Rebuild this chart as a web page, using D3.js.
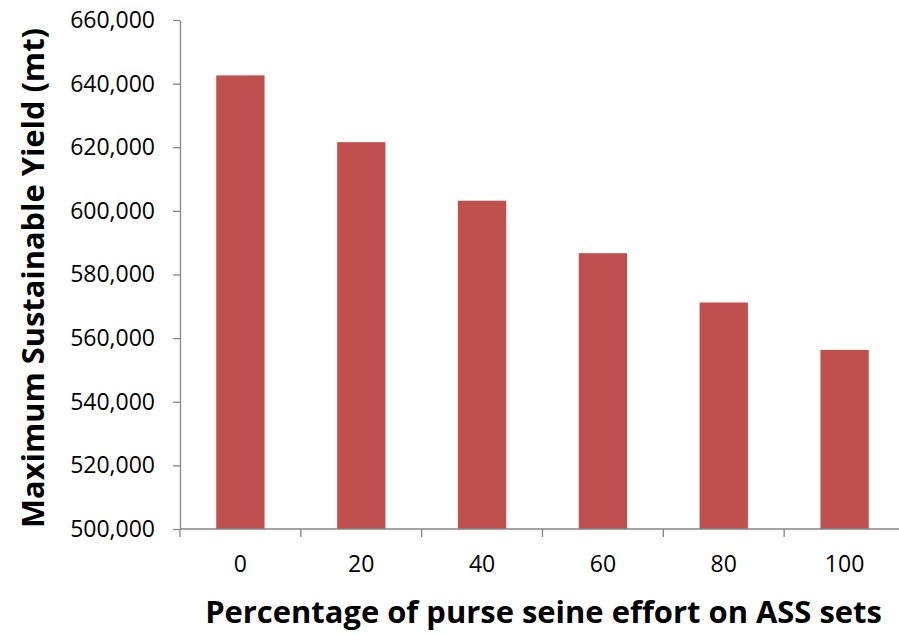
<!DOCTYPE html>
<html>
<head>
<meta charset="utf-8">
<script src="https://cdn.jsdelivr.net/npm/d3@7"></script>
<style>
  html, body { margin: 0; padding: 0; background: #ffffff; }
  svg { display: block; }
  text { font-family: "Open Sans", "Noto Sans", sans-serif; fill: #000; }
</style>
</head>
<body>
<svg id="chart" width="899" height="634"></svg>
<script>
// Percentage of purse seine effort on ASS sets
const categories = ["0", "20", "40", "60", "80", "100"];
// Maximum sustainable yield (mt)
const msyValues = [642600, 621600, 603200, 586700, 571200, 556300];
const yTicks = [500000, 520000, 540000, 560000, 580000, 600000, 620000, 640000, 660000];
const xTitle = "Percentage of purse seine effort on ASS sets";
const yTitle = "Maximum Sustainable Yield (mt)";

const svg = d3.select("#chart");
const plot = { left: 180, right: 905, top: 20, bottom: 529 };

const x = d3.scaleBand()
  .domain(categories)
  .range([plot.left, plot.right])
  .paddingInner(0.6)
  .paddingOuter(0.3);

const y = d3.scaleLinear()
  .domain([500000, 660000])
  .range([plot.bottom, plot.top]);

const fmt = d3.format(",");
const axisColor = "#868686";

// bars
svg.append("g")
  .selectAll("rect")
  .data(msyValues)
  .join("rect")
  .attr("x", (d, i) => x(categories[i]))
  .attr("width", x.bandwidth())
  .attr("y", d => y(d))
  .attr("height", d => y(500000) - y(d))
  .attr("fill", "#C0504D");

// y axis
const yAxis = svg.append("g")
  .attr("transform", `translate(${plot.left},0)`)
  .call(d3.axisLeft(y).tickValues(yTicks).tickFormat(fmt).tickSize(7).tickSizeOuter(0).tickPadding(18));
yAxis.select(".domain").attr("stroke", axisColor).attr("stroke-width", 1.3);
yAxis.selectAll(".tick line").attr("stroke", axisColor).attr("stroke-width", 1.3);
yAxis.selectAll(".tick text")
  .style("font-family", "'Open Sans', sans-serif")
  .style("font-size", "23px")
  .attr("fill", "#000");

// x axis with ticks at band boundaries
const step = x.step();
const boundaries = d3.range(categories.length + 1).map(i => plot.left + i * step);
const xAxisG = svg.append("g");
xAxisG.append("line")
  .attr("x1", plot.left).attr("x2", plot.right)
  .attr("y1", plot.bottom).attr("y2", plot.bottom)
  .attr("stroke", axisColor).attr("stroke-width", 1.3);
xAxisG.selectAll("line.tick")
  .data(boundaries)
  .join("line")
  .attr("class", "tick")
  .attr("x1", d => d).attr("x2", d => d)
  .attr("y1", plot.bottom).attr("y2", plot.bottom + 8)
  .attr("stroke", axisColor).attr("stroke-width", 1.3);
xAxisG.selectAll("text")
  .data(categories)
  .join("text")
  .attr("x", d => x(d) + x.bandwidth() / 2)
  .attr("y", 572)
  .attr("text-anchor", "middle")
  .style("font-size", "23px")
  .text(d => d);

// axis titles: set the glyph height by font size, then squeeze the run to its span
function titleText(cx, cy, angle, label, size, span) {
  const g = svg.append("g").attr("transform", `translate(${cx},${cy}) rotate(${angle})`);
  const t = g.append("text")
    .attr("text-anchor", "middle")
    .style("font-weight", "bold")
    .style("font-size", size + "px")
    .text(label);
  const len = t.node().getComputedTextLength();
  t.attr("transform", `scale(${span / len},1)`);
  return t;
}

titleText((205 + 882) / 2, 623, 0, xTitle, 31, 677);
titleText(44, (28 + 528) / 2, -90, yTitle, 31, 500);
</script>
</body>
</html>
